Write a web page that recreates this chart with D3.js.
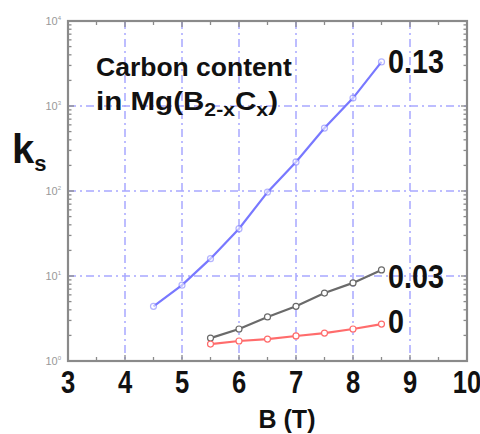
<!DOCTYPE html>
<html>
<head>
<meta charset="utf-8">
<script src="https://cdn.jsdelivr.net/npm/d3@7"></script>
<style>
  body { margin: 0; background: #fff; }
  svg { display: block; }
</style>
</head>
<body>
<svg id="chart" width="480" height="434"></svg>
<script>
// field values (T)
const fieldB = [4.5, 5, 5.5, 6, 6.5, 7, 7.5, 8, 8.5];
const fieldB2 = [5.5, 6, 6.5, 7, 7.5, 8, 8.5];
// ks per carbon content
const ks013 = [4.4, 7.8, 16, 36, 97, 220, 550, 1240, 3300];
const ks003 = [1.86, 2.38, 3.3, 4.4, 6.3, 8.3, 11.8];
const ks000 = [1.58, 1.72, 1.81, 1.97, 2.13, 2.38, 2.72];
const xTicks = [3, 4, 5, 6, 7, 8, 9, 10];
const yTicks = [1, 10, 100, 1000, 10000];
const yExp = ['0', '1', '2', '3', '4'];

const svg = d3.select('#chart');
const m = { left: 68, right: 467, top: 21, bottom: 361 };

const x = d3.scaleLinear().domain([3, 10]).range([m.left, m.right]);
const y = d3.scaleLog().domain([1, 10000]).range([m.bottom, m.top]);

const gridColor = '#a8a8ff';
const frameColor = '#8a8a8a';
const font = '"Liberation Sans", Arial, sans-serif';

// grid
const grid = svg.append('g');
grid.selectAll('.vg')
    .data(xTicks.slice(1, -1))
    .join('line')
    .attr('x1', d => x(d)).attr('x2', d => x(d))
    .attr('y1', m.top).attr('y2', m.bottom)
    .attr('stroke', gridColor)
    .attr('stroke-width', 1.5)
    .attr('stroke-dasharray', '8,4,2,4');
grid.selectAll('.hg')
    .data(yTicks.slice(1, -1))
    .join('line')
    .attr('x1', m.left).attr('x2', m.right)
    .attr('y1', d => y(d)).attr('y2', d => y(d))
    .attr('stroke', gridColor)
    .attr('stroke-width', 1.5)
    .attr('stroke-dasharray', '8,4,2,4');

// ticks, inward on all four sides
const minorX = d3.range(3.5, 10, 1);
const minorY = [];
yTicks.slice(0, -1).forEach(d => { for (let k = 2; k < 10; k++) minorY.push(d * k); });

const ticks = svg.append('g').attr('stroke', frameColor).attr('stroke-width', 1.3);
[[m.bottom, -1], [m.top, 1]].forEach(([yy, dir]) => {
    ticks.selectAll(null).data(xTicks).join('line')
        .attr('x1', d => x(d)).attr('x2', d => x(d))
        .attr('y1', yy).attr('y2', yy + dir * 6);
    ticks.selectAll(null).data(minorX).join('line')
        .attr('x1', d => x(d)).attr('x2', d => x(d))
        .attr('y1', yy).attr('y2', yy + dir * 4);
});
[[m.left, 1], [m.right, -1]].forEach(([xx, dir]) => {
    ticks.selectAll(null).data(yTicks).join('line')
        .attr('y1', d => y(d)).attr('y2', d => y(d))
        .attr('x1', xx).attr('x2', xx + dir * 6);
    ticks.selectAll(null).data(minorY).join('line')
        .attr('y1', d => y(d)).attr('y2', d => y(d))
        .attr('x1', xx).attr('x2', xx + dir * 3.5);
});

// frame
svg.append('rect')
    .attr('x', m.left).attr('y', m.top)
    .attr('width', m.right - m.left).attr('height', m.bottom - m.top)
    .attr('fill', 'none')
    .attr('stroke', frameColor)
    .attr('stroke-width', 2.2);

// x tick labels (tall, narrow digits)
svg.append('g').selectAll('text')
    .data(xTicks)
    .join('text')
    .attr('transform', d => `translate(${x(d)},393) scale(0.8,1)`)
    .attr('text-anchor', 'middle')
    .attr('font-family', font)
    .attr('font-weight', 'bold')
    .attr('font-size', 32)
    .attr('fill', '#111')
    .text(d => d);

// y tick labels (10^n, small grey)
const yl = svg.append('g').selectAll('text')
    .data(yTicks)
    .join('text')
    .attr('x', 61)
    .attr('y', d => y(d) + 4)
    .attr('text-anchor', 'end')
    .attr('font-family', font)
    .attr('font-size', 11)
    .attr('fill', '#999');
yl.append('tspan').text('10');
yl.append('tspan').attr('font-size', 6).attr('dy', -5).text((d, i) => yExp[i]);

// series
const line = d3.line().x(d => x(d[0])).y(d => y(d[1]));
const series = [
    { b: fieldB, v: ks013, color: '#7878ff', label: '0.13', dy: 11, mark: 0.55 },
    { b: fieldB2, v: ks003, color: '#6a6a6a', label: '0.03', dy: 18, mark: 1 },
    { b: fieldB2, v: ks000, color: '#ff6c6c', label: '0', dy: 9, mark: 1 }
];
series.forEach(s => {
    const pts = s.b.map((b, i) => [b, s.v[i]]);
    svg.append('path')
        .datum(pts)
        .attr('d', line)
        .attr('fill', 'none')
        .attr('stroke', s.color)
        .attr('stroke-width', 2.2);
    svg.append('g').selectAll('circle')
        .data(pts)
        .join('circle')
        .attr('cx', d => x(d[0]))
        .attr('cy', d => y(d[1]))
        .attr('r', 3)
        .attr('fill', '#fff')
        .attr('stroke', s.color)
        .attr('stroke-width', 1.2)
        .attr('opacity', s.mark);
    const last = pts[pts.length - 1];
    svg.append('text')
        .attr('transform', `translate(388,${y(last[1]) + s.dy}) scale(0.87,1)`)
        .attr('font-family', font)
        .attr('font-weight', 'bold')
        .attr('font-size', 33)
        .attr('fill', '#111')
        .text(s.label);
});

// annotation
svg.append('text')
    .attr('x', 96).attr('y', 76)
    .attr('font-family', font)
    .attr('font-weight', 'bold')
    .attr('font-size', 26.5)
    .attr('fill', '#111')
    .text('Carbon content');
const l2 = svg.append('text')
    .attr('x', 96).attr('y', 110)
    .attr('font-family', font)
    .attr('font-weight', 'bold')
    .attr('font-size', 26.5)
    .attr('fill', '#111')
    .attr('textLength', 182)
    .attr('lengthAdjust', 'spacingAndGlyphs');
l2.append('tspan').text('in Mg(B');
l2.append('tspan').attr('font-size', 19).attr('dy', 6).text('2-x');
l2.append('tspan').attr('dy', -6).text('C');
l2.append('tspan').attr('font-size', 19).attr('dy', 6).text('x');
l2.append('tspan').attr('dy', -6).text(')');

// axis titles
const ks = svg.append('text')
    .attr('x', 12).attr('y', 163)
    .attr('font-family', font)
    .attr('font-weight', 'bold')
    .attr('font-size', 40)
    .attr('fill', '#111');
ks.append('tspan').text('k');
ks.append('tspan').attr('font-size', 22).attr('dy', 8).text('s');

svg.append('text')
    .attr('x', 287).attr('y', 428)
    .attr('text-anchor', 'middle')
    .attr('font-family', font)
    .attr('font-weight', 'bold')
    .attr('font-size', 25)
    .attr('fill', '#111')
    .text('B (T)');
</script>
</body>
</html>
